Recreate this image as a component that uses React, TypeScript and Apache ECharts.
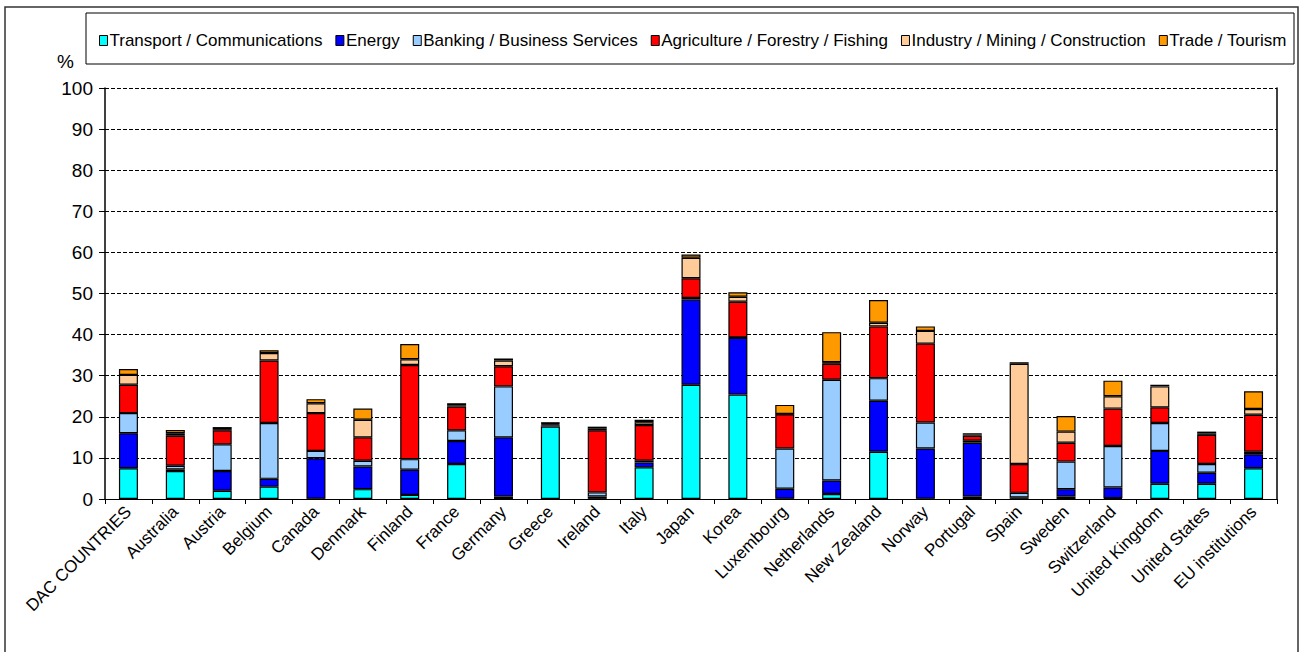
import React, { useEffect, useRef } from "react";
import * as echarts from "echarts";

const categories = [
  "DAC COUNTRIES", "Australia", "Austria", "Belgium", "Canada", "Denmark", "Finland", "France",
  "Germany", "Greece", "Ireland", "Italy", "Japan", "Korea", "Luxembourg", "Netherlands",
  "New Zealand", "Norway", "Portugal", "Spain", "Sweden", "Switzerland", "United Kingdom",
  "United States", "EU institutions",
];

const transport = [7.5, 6.8, 2.0, 3.0, 0.1, 2.4, 1.0, 8.5, 0.6, 17.6, 0.1, 7.7, 27.8, 25.4, 0.1, 1.2, 11.5, 0.1, 0.6, 0.1, 0.6, 0.2, 3.7, 3.7, 7.5];
const energy = [8.5, 0.4, 4.8, 1.9, 9.8, 5.5, 6.1, 5.6, 14.4, 0.3, 0.5, 1.2, 20.7, 13.8, 2.4, 3.3, 12.4, 12.2, 13.1, 0.3, 1.8, 2.6, 8.0, 2.7, 3.4];
const banking = [4.9, 0.9, 6.5, 13.6, 1.8, 1.4, 2.6, 2.6, 12.4, 0.2, 1.0, 0.4, 0.4, 0.1, 9.8, 24.5, 5.5, 6.3, 0.5, 1.1, 6.7, 10.1, 6.8, 2.1, 0.6];
const agriculture = [6.9, 7.3, 3.4, 15.2, 9.2, 5.7, 22.9, 5.8, 4.9, 0.2, 15.1, 8.7, 4.8, 8.7, 8.3, 3.9, 12.6, 19.2, 1.2, 7.0, 4.6, 9.1, 3.8, 7.1, 9.0];
const industry = [2.4, 0.6, 0.3, 1.8, 2.4, 4.3, 1.4, 0.3, 1.4, 0.2, 0.4, 0.7, 5.0, 1.2, 0.1, 0.4, 0.9, 3.1, 0.3, 24.4, 2.7, 3.0, 5.1, 0.3, 1.4];
const trade = [1.4, 0.8, 0.5, 0.7, 1.0, 2.7, 3.7, 0.5, 0.5, 0.1, 0.5, 0.6, 0.8, 1.1, 2.2, 7.3, 5.5, 1.1, 0.3, 0.4, 3.8, 3.8, 0.4, 0.5, 4.3];

const seriesNames = [
  "Transport / Communications",
  "Energy",
  "Banking / Business Services",
  "Agriculture / Forestry / Fishing",
  "Industry / Mining / Construction",
  "Trade / Tourism",
];
const seriesData = [transport, energy, banking, agriculture, industry, trade];
const colors = ["#00FFFF", "#0000FF", "#99CCFF", "#FF0000", "#FFCC99", "#FF9900"];

const FONT = "'Liberation Sans', Arial, sans-serif";

export default function App() {
  const ref = useRef<HTMLDivElement>(null);
  useEffect(() => {
    if (!ref.current) return;
    const chart = echarts.init(ref.current, undefined, { renderer: "svg" });
    chart.setOption({
      animation: false,
      backgroundColor: "#ffffff",
      textStyle: { fontFamily: FONT },
      graphic: [
        {
          type: "rect",
          shape: { x: 5, y: 7, width: 1293, height: 700 },
          style: { fill: "none", stroke: "#333", lineWidth: 1.5 },
          silent: true,
          z: -1,
        },
        {
          type: "rect",
          shape: { x: 86, y: 13, width: 1208, height: 51 },
          style: { fill: "none", stroke: "#000", lineWidth: 1 },
          silent: true,
        },
        {
          type: "text",
          x: 57,
          y: 52,
          style: { text: "%", font: `19px ${FONT}`, fill: "#000" },
          silent: true,
        },
      ],
      legend: {
        left: 99,
        top: 32,
        padding: 0,
        itemGap: 13,
        itemWidth: 8,
        itemHeight: 10,
        icon: "rect",
        textStyle: { fontSize: 17, color: "#000", fontFamily: FONT, padding: [0, 0, 0, -3] },
        itemStyle: { borderColor: "#000", borderWidth: 1 },
        data: seriesNames,
      },
      grid: { left: 105, right: 24, top: 88, bottom: 153, containLabel: false },
      xAxis: [
        {
          type: "category",
          data: categories,
          axisLine: { lineStyle: { color: "#000", width: 1 } },
          axisTick: { show: true, length: 5, lineStyle: { color: "#000" } },
          axisLabel: {
            rotate: 45,
            interval: 0,
            fontSize: 17,
            color: "#000",
            fontFamily: FONT,
            margin: 10,
          },
        },
      ],
      yAxis: [
        {
          type: "value",
          min: 0,
          max: 100,
          interval: 10,
          axisLine: { show: true, lineStyle: { color: "#000", width: 1.5 } },
          axisTick: { show: true, length: 6, lineStyle: { color: "#000" } },
          axisLabel: { fontSize: 19, color: "#000", fontFamily: FONT, margin: 12 },
          splitLine: {
            show: true,
            lineStyle: { color: "#000", type: [4, 2], width: 1 },
          },
        },
        {
          type: "value",
          min: 0,
          max: 100,
          interval: 10,
          position: "right",
          axisLine: { show: true, lineStyle: { color: "#000", width: 1.5 } },
          axisTick: { show: false },
          axisLabel: { show: false },
          splitLine: { show: false },
        },
      ],
      series: seriesNames.map((name, i) => ({
        name,
        type: "bar",
        stack: "total",
        barWidth: 19,
        yAxisIndex: 0,
        data: seriesData[i],
        itemStyle: { color: colors[i], borderColor: "#000", borderWidth: 1.2 },
      })),
    });
    return () => chart.dispose();
  }, []);
  return (
    <div
      ref={ref}
      style={{ position: "fixed", left: 0, top: 0, width: 1301, height: 652 }}
    />
  );
}
